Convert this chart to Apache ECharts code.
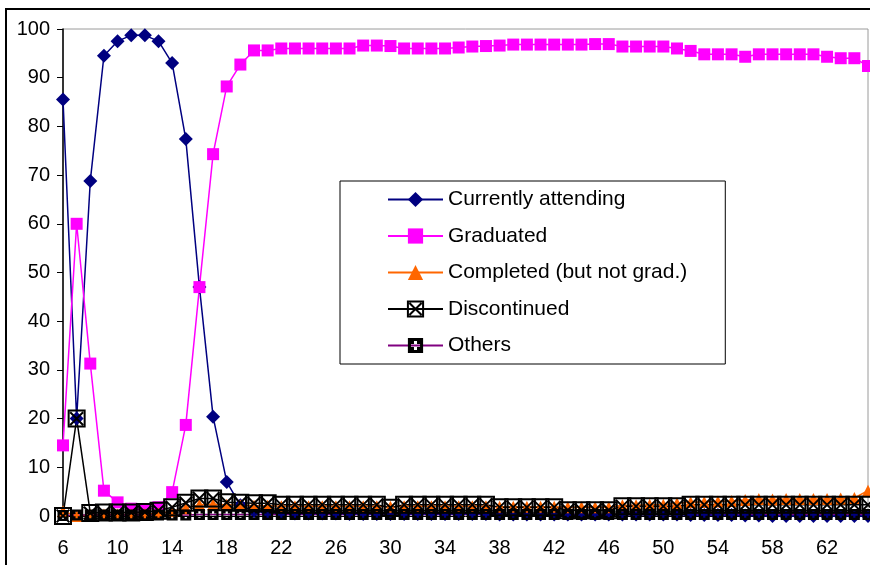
<!DOCTYPE html>
<html>
<head>
<meta charset="utf-8">
<script src="https://cdn.jsdelivr.net/npm/echarts@6/dist/echarts.min.js"></script>
<style>
  html, body { margin: 0; padding: 0; background: #fff; }
  #chart { width: 870px; height: 565px; }
</style>
</head>
<body>
<div id="chart"></div>
<script>
// Ages 6 .. 65
var ages = [];
for (var a = 6; a <= 65; a++) ages.push(String(a));

var seriesNames = ['Currently attending', 'Graduated', 'Completed (but not grad.)', 'Discontinued', 'Others'];

var attending = [
  85.5, 20.0, 68.8, 94.5, 97.5, 98.7, 98.7, 97.5, 93.0, 77.4,
  47.0, 20.4, 7.0, 2.2, 1.0, 0.7, 0.6, 0.5, 0.5, 0.5,
  0.5, 0.4, 0.4, 0.4, 0.4, 0.4, 0.4, 0.4, 0.4, 0.4,
  0.4, 0.4, 0.3, 0.3, 0.3, 0.3, 0.3, 0.3, 0.3, 0.3,
  0.3, 0.3, 0.3, 0.3, 0.3, 0.3, 0.2, 0.2, 0.2, 0.2,
  0.1, 0.1, 0.0, 0.0, 0.0, 0.0, 0.0, 0.0, 0.0, 0.0
];

var graduated = [
  14.5, 60.0, 31.3, 5.2, 2.8, 1.5, 1.3, 1.8, 4.9, 18.7,
  47.0, 74.3, 88.2, 92.7, 95.6, 95.6, 96.0, 96.0, 96.0, 96.0,
  96.0, 96.0, 96.6, 96.6, 96.5, 96.0, 96.0, 96.0, 96.0, 96.2,
  96.4, 96.5, 96.6, 96.8, 96.8, 96.8, 96.8, 96.8, 96.8, 96.9,
  96.9, 96.4, 96.4, 96.4, 96.4, 96.0, 95.5, 94.8, 94.8, 94.8,
  94.3, 94.8, 94.8, 94.8, 94.8, 94.8, 94.3, 94.0, 94.0, 92.4
];

var completed = [
  1.0, 0.0, 0.2, 0.3, 0.3, 0.3, 0.4, 0.5, 1.0, 1.6,
  2.3, 2.4, 2.3, 2.2, 2.1, 2.1, 2.0, 2.0, 2.0, 2.0,
  2.0, 2.0, 2.0, 2.0, 1.9, 2.0, 2.0, 2.0, 2.0, 2.0,
  2.0, 2.0, 1.9, 1.9, 1.9, 1.9, 1.9, 1.8, 1.8, 1.8,
  1.8, 2.2, 2.2, 2.3, 2.3, 2.6, 2.8, 2.9, 3.0, 3.1,
  3.3, 3.5, 3.4, 3.5, 3.5, 3.5, 3.5, 3.6, 3.7, 5.2
];

var discontinued = [
  0.0, 20.0, 0.6, 0.7, 0.7, 0.7, 0.8, 1.1, 1.8, 2.7,
  3.6, 3.6, 2.8, 2.7, 2.6, 2.6, 2.3, 2.3, 2.3, 2.3,
  2.3, 2.3, 2.3, 2.3, 1.7, 2.3, 2.3, 2.3, 2.3, 2.3,
  2.3, 2.3, 1.8, 1.8, 1.8, 1.8, 1.8, 1.2, 1.2, 1.2,
  1.2, 2.0, 2.0, 2.0, 2.0, 2.0, 2.3, 2.3, 2.3, 2.3,
  2.3, 2.3, 2.3, 2.3, 2.3, 2.3, 2.3, 2.3, 2.3, 2.3
];

var others = [
  0.1, 0.2, 0.2, 0.2, 0.2, 0.2, 0.2, 0.2, 0.2, 0.2,
  0.3, 0.3, 0.3, 0.3, 0.3, 0.3, 0.3, 0.3, 0.3, 0.3,
  0.3, 0.3, 0.3, 0.3, 0.3, 0.3, 0.3, 0.3, 0.3, 0.3,
  0.3, 0.3, 0.3, 0.3, 0.3, 0.3, 0.3, 0.3, 0.3, 0.3,
  0.3, 0.3, 0.3, 0.3, 0.3, 0.3, 0.3, 0.3, 0.3, 0.3,
  0.3, 0.3, 0.3, 0.3, 0.3, 0.3, 0.3, 0.3, 0.3, 0.3
];

var yTicks = { min: 0, max: 100, interval: 10 };

// Marker shapes: boxed cross, and filled square with a plus-shaped hole
var boxCross = 'path://M0,0H10V10H0Z M1,1L9,9 M9,1L1,9';
var squarePlus = 'path://M0,0H10V10H0Z M4,2V4H2V6H4V8H6V6H8V4H6V2Z';

var FONT = 'Liberation Sans, Arial, sans-serif';

var chart = echarts.init(document.getElementById('chart'), null, { renderer: 'canvas' });

function lineSeries(i, data, color, symbol, size, item) {
  return {
    name: seriesNames[i], type: 'line', data: data,
    symbol: symbol, symbolSize: size, showAllSymbol: true,
    lineStyle: { color: color, width: 1.5 },
    itemStyle: item || { color: color }
  };
}

chart.setOption({
  animation: false,
  backgroundColor: '#fff',
  textStyle: { fontFamily: FONT },
  graphic: [{
    type: 'rect',
    silent: true,
    z: -10,
    shape: { x: 6, y: 9, width: 900, height: 620 },
    style: { fill: 'none', stroke: '#000', lineWidth: 2 }
  }],
  grid: {
    left: 63, top: 29, right: 2, bottom: 49,
    show: true, borderColor: '#9a9a9a', borderWidth: 1, backgroundColor: 'transparent'
  },
  legend: {
    data: seriesNames,
    orient: 'vertical',
    left: 340, top: 181,
    padding: [8, 38, 8, 47],
    itemWidth: 55, itemHeight: 19, itemGap: 15.5,
    backgroundColor: '#fff',
    borderColor: '#000', borderWidth: 1,
    textStyle: { fontSize: 21, color: '#000', fontFamily: FONT }
  },
  xAxis: {
    type: 'category',
    data: ages,
    boundaryGap: false,
    axisLine: { show: true, lineStyle: { color: '#000', width: 1 } },
    axisTick: { show: false },
    axisLabel: { interval: 3, fontSize: 20, color: '#000', margin: 22, fontFamily: FONT },
    splitLine: { show: false }
  },
  yAxis: {
    type: 'value',
    min: yTicks.min, max: yTicks.max, interval: yTicks.interval,
    axisLine: { show: true, lineStyle: { color: '#000', width: 1.5 } },
    axisTick: { show: true, inside: false, length: 6, lineStyle: { color: '#000' } },
    axisLabel: { fontSize: 20, color: '#000', margin: 13, fontFamily: FONT },
    splitLine: { show: false }
  },
  series: [
    lineSeries(0, attending, '#000080', 'diamond', 14),
    lineSeries(1, graduated, '#ff00ff', 'rect', 12),
    lineSeries(2, completed, '#ff6600', 'triangle', 12),
    lineSeries(3, discontinued, '#000', boxCross, 16,
      { color: 'rgba(255,255,255,0)', borderColor: '#000', borderWidth: 2 }),
    lineSeries(4, others, '#800080', squarePlus, 11, { color: '#000' })
  ]
});
</script>
</body>
</html>
